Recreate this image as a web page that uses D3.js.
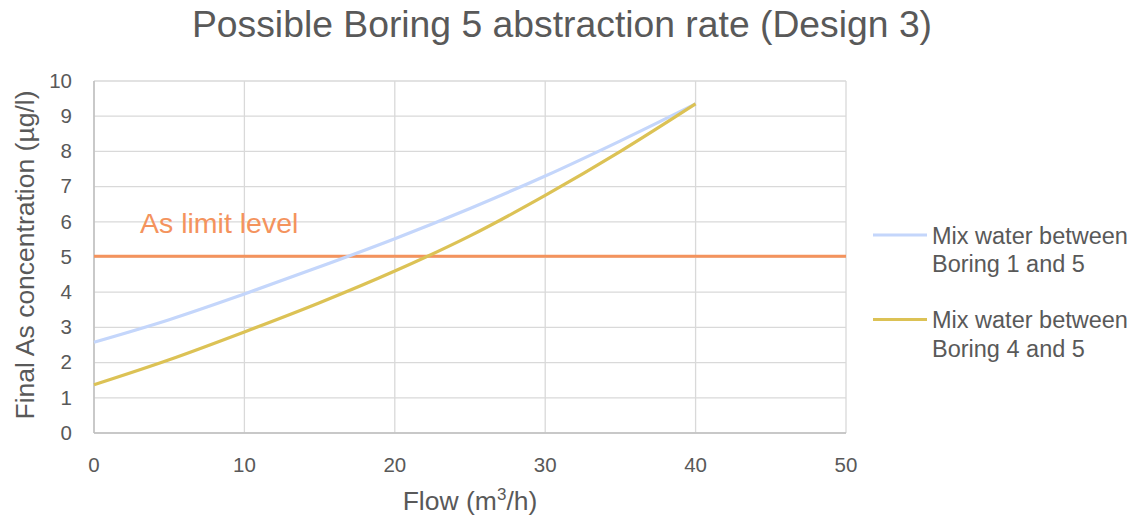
<!DOCTYPE html>
<html>
<head>
<meta charset="utf-8">
<script src="https://cdn.jsdelivr.net/npm/d3@7"></script>
<style>
  body { margin: 0; background: #fff; }
  text { font-family: "Liberation Sans", Arial, sans-serif; }
</style>
</head>
<body>
<div id="chart"></div>
<script>
// data
const flow = [0, 5, 10, 15, 20, 25, 30, 35, 40];
const boring15 = [2.58, 3.22, 3.95, 4.72, 5.52, 6.38, 7.3, 8.3, 9.35];
const boring45 = [1.37, 2.08, 2.87, 3.7, 4.6, 5.6, 6.75, 8.0, 9.35];
const limitLevel = 5.02;
const xTicks = [0, 10, 20, 30, 40, 50];
const yTicks = [0, 1, 2, 3, 4, 5, 6, 7, 8, 9, 10];

const W = 1145, H = 516;
const margin = {top: 81, left: 94, right: 299, bottom: 83};
const width = W - margin.left - margin.right;
const height = H - margin.top - margin.bottom;
const textColor = "#595959";

const svg = d3.select("#chart").append("svg")
    .attr("width", W).attr("height", H);

const g = svg.append("g")
    .attr("transform", `translate(${margin.left},${margin.top})`);

const x = d3.scaleLinear().domain([0, 50]).range([0, width]);
const y = d3.scaleLinear().domain([0, 10]).range([height, 0]);

// gridlines
g.append("g").selectAll("line")
    .data(yTicks).enter().append("line")
    .attr("x1", 0).attr("x2", width)
    .attr("y1", d => y(d)).attr("y2", d => y(d))
    .attr("stroke", "#d9d9d9").attr("stroke-width", 1.3);
g.append("g").selectAll("line")
    .data(xTicks).enter().append("line")
    .attr("y1", 0).attr("y2", height)
    .attr("x1", d => x(d)).attr("x2", d => x(d))
    .attr("stroke", "#d9d9d9").attr("stroke-width", 1.3);

// axis lines
g.append("line").attr("x1", 0).attr("x2", 0).attr("y1", 0).attr("y2", height)
    .attr("stroke", "#bfbfbf").attr("stroke-width", 1.5);
g.append("line").attr("x1", 0).attr("x2", width).attr("y1", height).attr("y2", height)
    .attr("stroke", "#bfbfbf").attr("stroke-width", 1.5);

// tick labels
g.append("g").selectAll("text")
    .data(yTicks).enter().append("text")
    .attr("x", -22).attr("y", d => y(d) + 6.8)
    .attr("text-anchor", "end")
    .attr("font-size", 20.5).attr("fill", textColor)
    .text(d => d);
g.append("g").selectAll("text")
    .data(xTicks).enter().append("text")
    .attr("x", d => x(d)).attr("y", height + 38.5)
    .attr("text-anchor", "middle")
    .attr("font-size", 20.5).attr("fill", textColor)
    .text(d => d);

// limit line
g.append("line")
    .attr("x1", 0).attr("x2", width)
    .attr("y1", y(limitLevel)).attr("y2", y(limitLevel))
    .attr("stroke", "#f4935d").attr("stroke-width", 3);
g.append("text")
    .attr("x", 46).attr("y", 152)
    .attr("font-size", 28.5).attr("fill", "#f4935d")
    .text("As limit level");

const line = d3.line()
    .x(d => x(d[0])).y(d => y(d[1]))
    .curve(d3.curveMonotoneX);

const series = [
  {name: ["Mix water between", "Boring 1 and 5"], vals: boring15, color: "#c4d6fb"},
  {name: ["Mix water between", "Boring 4 and 5"], vals: boring45, color: "#dcc255"}
];

series.forEach(s => {
  g.append("path")
      .datum(flow.map((f, i) => [f, s.vals[i]]))
      .attr("d", line)
      .attr("fill", "none")
      .attr("stroke", s.color)
      .attr("stroke-width", 3.2);
});

// legend
const legend = svg.append("g").attr("transform", "translate(873,235)");
series.forEach((s, i) => {
  const lg = legend.append("g").attr("transform", `translate(0,${i * 84.5})`);
  lg.append("line").attr("x1", 0).attr("x2", 54).attr("y1", 0).attr("y2", 0)
      .attr("stroke", s.color).attr("stroke-width", 3.2);
  s.name.forEach((t, j) => {
    lg.append("text").attr("x", 59).attr("y", 8.5 + j * 28.5)
        .attr("font-size", 23.5).attr("fill", textColor).text(t);
  });
});

// title
svg.append("text")
    .attr("x", 562).attr("y", 37)
    .attr("text-anchor", "middle")
    .attr("font-size", 37.3).attr("fill", textColor)
    .text("Possible Boring 5 abstraction rate (Design 3)");

// axis titles
const xt = svg.append("text")
    .attr("x", 470).attr("y", 510)
    .attr("text-anchor", "middle")
    .attr("font-size", 26.5).attr("fill", textColor);
xt.append("tspan").text("Flow (m");
xt.append("tspan").attr("font-size", 17).attr("dy", -10).text("3");
xt.append("tspan").attr("dy", 10).text("/h)");

svg.append("text")
    .attr("transform", "translate(34,255) rotate(-90)")
    .attr("text-anchor", "middle")
    .attr("font-size", 26.5).attr("fill", textColor)
    .text("Final As concentration (µg/l)");
</script>
</body>
</html>
